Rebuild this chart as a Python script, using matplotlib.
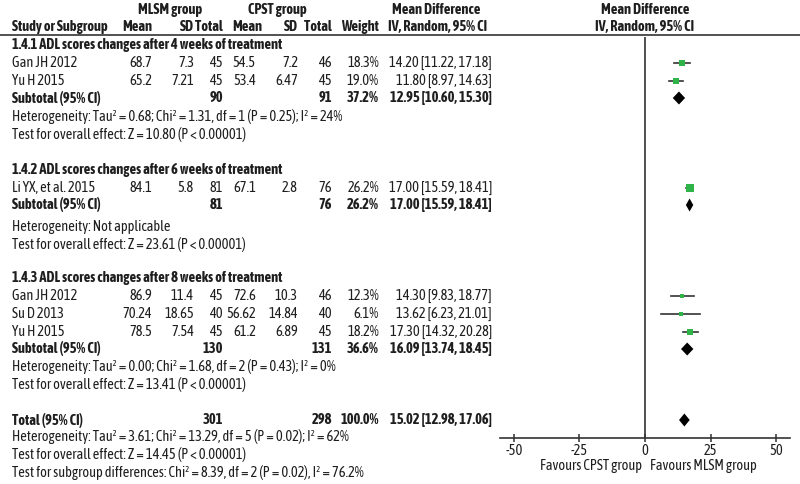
import matplotlib
matplotlib.use("Agg")
import matplotlib.pyplot as plt
import matplotlib.font_manager as fm
import matplotlib.patheffects as pe

# study level data
studies = ["Gan JH 2012", "Yu H 2015", "Li YX, et al. 2015", "Gan JH 2012", "Su D 2013", "Yu H 2015"]
mlsm_mean = ["68.7", "65.2", "84.1", "86.9", "70.24", "78.5"]
mlsm_sd = ["7.3", "7.21", "5.8", "11.4", "18.65", "7.54"]
mlsm_n = [45, 45, 81, 45, 40, 45]
cpst_mean = ["54.5", "53.4", "67.1", "72.6", "56.62", "61.2"]
cpst_sd = ["7.2", "6.47", "2.8", "10.3", "14.84", "6.89"]
cpst_n = [46, 45, 76, 46, 40, 45]
weight = [18.3, 19.0, 26.2, 12.3, 6.1, 18.2]
md = [14.20, 11.80, 17.00, 14.30, 13.62, 17.30]
md_lo = [11.22, 8.97, 15.59, 9.83, 6.23, 14.32]
md_hi = [17.18, 14.63, 18.41, 18.77, 21.01, 20.28]

# subgroup + total pooled data
sub_titles = ["1.4.1 ADL scores changes after 4 weeks of treatment",
              "1.4.2 ADL scores changes after 6 weeks of treatment",
              "1.4.3 ADL scores changes after 8 weeks of treatment"]
sub_mlsm_n = [90, 81, 130]
sub_cpst_n = [91, 76, 131]
sub_weight = [37.2, 26.2, 36.6]
sub_md = [12.95, 17.00, 16.09]
sub_lo = [10.60, 15.59, 13.74]
sub_hi = [15.30, 18.41, 18.45]
sub_het = ["Heterogeneity: Tau² = 0.68; Chi² = 1.31, df = 1 (P = 0.25); I² = 24%",
           "Heterogeneity: Not applicable",
           "Heterogeneity: Tau² = 0.00; Chi² = 1.68, df = 2 (P = 0.43); I² = 0%"]
sub_z = ["Test for overall effect: Z = 10.80 (P < 0.00001)",
         "Test for overall effect: Z = 23.61 (P < 0.00001)",
         "Test for overall effect: Z = 13.41 (P < 0.00001)"]
total_n = [301, 298]
total_md, total_lo, total_hi = 15.02, 12.98, 17.06
total_notes = ["Heterogeneity: Tau² = 3.61; Chi² = 13.29, df = 5 (P = 0.02); I² = 62%",
               "Test for overall effect: Z = 14.45 (P < 0.00001)",
               "Test for subgroup differences: Chi² = 8.39, df = 2 (P = 0.02), I² = 76.2%"]
xticks = [-50, -25, 0, 25, 50]

# layout (pixel rows)
study_y = [63, 81, 188, 296, 314, 332]
title_y = [45, 170, 278]
sub_y = [98, 205, 349]
het_y = [117, 227, 367]
z_y = [134, 245, 384]
total_y = 420
notes_y = [437, 455, 473]

# the original uses a narrow font; pick one if there is any, preferably with a bold face
def is_bold(f):
    w = f.weight
    if isinstance(w, str):
        w = fm.weight_dict.get(w, 400)
    return w >= 600

entries = fm.fontManager.ttflist
names = sorted({f.name for f in entries})
bold_names = {f.name for f in entries if is_bold(f)}
narrow = [n for n in names if "Narrow" in n or "Condensed" in n]
narrow.sort(key=lambda n: n not in bold_names)
if narrow:
    family = narrow[0]
else:
    family = "Lato" if "Lato" in names else "DejaVu Sans"
fake_bold = family not in bold_names
plt.rcParams['font.family'] = [family, 'DejaVu Sans']

green = "#2fb44a"
ink = "#1e1e1e"
cols = dict(mm=152, msd=194, mn=223, cm=256, csd=298, cn=332, w=379, ci=492)

fig = plt.figure(figsize=(8, 4.84), dpi=100)
bg = fig.add_axes([0, 0, 1, 1])
bg.set_xlim(0, 800)
bg.set_ylim(484, 0)
bg.axis("off")

# size text so the longest footnote spans about as wide as in the original
probe = bg.text(0, 0, total_notes[2], fontsize=10)
w10 = probe.get_window_extent(fig.canvas.get_renderer()).width
probe.remove()
fs = min(11.0, 10.0 * 350 / w10)

def t(x, y, s, ha="left", bold=False):
    kw = {}
    if bold and fake_bold:
        kw["path_effects"] = [pe.withStroke(linewidth=0.7, foreground=ink)]
    bg.text(x, y, s, ha=ha, va="center", fontsize=fs,
            fontweight="bold" if bold else "normal", color=ink, **kw)

# headers
t(170, 10, "MLSM group", ha="center", bold=True)
t(277, 10, "CPST group", ha="center", bold=True)
t(436, 10, "Mean Difference", ha="center", bold=True)
t(645, 10, "Mean Difference", ha="center", bold=True)
t(12, 27, "Study or Subgroup", bold=True)
t(cols["mm"], 27, "Mean", ha="right", bold=True)
t(cols["msd"], 27, "SD", ha="right", bold=True)
t(cols["mn"], 27, "Total", ha="right", bold=True)
t(262, 27, "Mean", ha="right", bold=True)
t(cols["csd"], 27, "SD", ha="right", bold=True)
t(cols["cn"], 27, "Total", ha="right", bold=True)
t(cols["w"], 27, "Weight", ha="right", bold=True)
t(438, 27, "IV, Random, 95% CI", ha="center", bold=True)
t(645, 27, "IV, Random, 95% CI", ha="center", bold=True)
bg.plot([0, 800], [35, 35], color="#333333", lw=1.2)

for i, y in enumerate(study_y):
    t(12, y, studies[i])
    t(cols["mm"], y, mlsm_mean[i], ha="right")
    t(cols["msd"], y, mlsm_sd[i], ha="right")
    t(cols["mn"], y, str(mlsm_n[i]), ha="right")
    t(cols["cm"], y, cpst_mean[i], ha="right")
    t(cols["csd"], y, cpst_sd[i], ha="right")
    t(cols["cn"], y, str(cpst_n[i]), ha="right")
    t(cols["w"], y, f"{weight[i]:.1f}%", ha="right")
    t(cols["ci"], y, f"{md[i]:.2f} [{md_lo[i]:.2f}, {md_hi[i]:.2f}]", ha="right")

for g in range(3):
    t(12, title_y[g], sub_titles[g], bold=True)
    t(12, sub_y[g], "Subtotal (95% CI)", bold=True)
    t(cols["mn"], sub_y[g], str(sub_mlsm_n[g]), ha="right", bold=True)
    t(cols["cn"], sub_y[g], str(sub_cpst_n[g]), ha="right", bold=True)
    t(cols["w"], sub_y[g], f"{sub_weight[g]:.1f}%", ha="right", bold=True)
    t(cols["ci"], sub_y[g], f"{sub_md[g]:.2f} [{sub_lo[g]:.2f}, {sub_hi[g]:.2f}]", ha="right", bold=True)
    t(12, het_y[g], sub_het[g])
    t(12, z_y[g], sub_z[g])

t(12, total_y, "Total (95% CI)", bold=True)
t(cols["mn"], total_y, str(total_n[0]), ha="right", bold=True)
t(cols["cn"], total_y, str(total_n[1]), ha="right", bold=True)
t(cols["w"], total_y, "100.0%", ha="right", bold=True)
t(cols["ci"], total_y, f"{total_md:.2f} [{total_lo:.2f}, {total_hi:.2f}]", ha="right", bold=True)
for s, y in zip(total_notes, notes_y):
    t(12, y, s)

# forest panel
top, bot = 37, 438
ax = fig.add_axes([500 / 800, (484 - bot) / 484, 290 / 800, (bot - top) / 484])
ax.patch.set_alpha(0)
ax.set_xlim(-55.3, 55.3)
ax.set_ylim(bot, top)
for sp in ["top", "left", "right"]:
    ax.spines[sp].set_visible(False)
ax.spines["bottom"].set_color("#333333")
ax.spines["bottom"].set_linewidth(1.2)
ax.axvline(0, color="#333333", lw=1.2)
ax.set_yticks([])
ax.set_xticks(xticks)
ax.set_xticklabels([str(v) for v in xticks])
ax.tick_params(axis="x", direction="inout", length=6, width=1.1, labelsize=fs,
               colors="#333333", labelcolor=ink, pad=1)

for i, y in enumerate(study_y):
    ax.plot([md_lo[i], md_hi[i]], [y, y], color="#333333", lw=1.2)
    side = 1.4 * weight[i] ** 0.5
    ax.plot(md[i], y, marker="s", color=green, markersize=side * 0.72, mew=0)

def diamond(m, lo, hi, y, h=6.5):
    ax.fill([lo, m, hi, m], [y, y - h, y, y + h], color="black", lw=0)

for g in range(3):
    diamond(sub_md[g], sub_lo[g], sub_hi[g], sub_y[g])
diamond(total_md, total_lo, total_hi, total_y)

t(642, 466, "Favours CPST group", ha="right")
t(650, 466, "Favours MLSM group", ha="left")

fig.savefig("out.png", dpi=100)
